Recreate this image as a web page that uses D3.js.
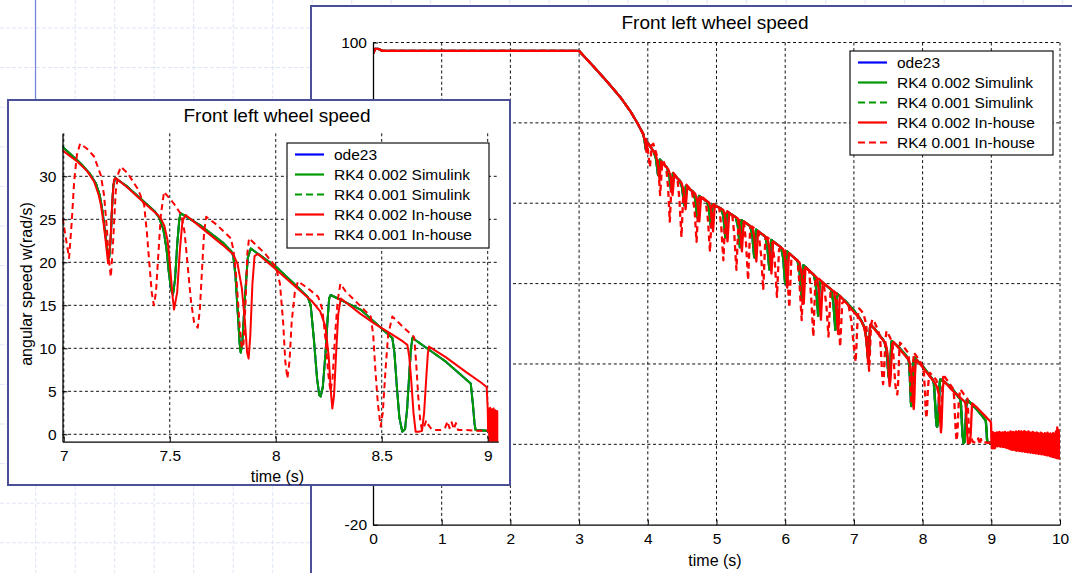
<!DOCTYPE html>
<html>
<head>
<meta charset="utf-8">
<script src="https://cdn.jsdelivr.net/npm/d3@7"></script>
<style>
  body { margin: 0; background: #fff; }
  svg { display: block; }
  text { font-family: "Liberation Sans", Arial, Helvetica, sans-serif; fill: #000; }
</style>
</head>
<body>
<svg id="chart" width="1072" height="573"></svg>
<script>
// ---------------------------------------------------------------
// Front left wheel speed, angular speed w (rad/s) against time (s)
// ---------------------------------------------------------------

// Coasting phase before braking (identical for every solver)
const coastPhase = [
  [0, 97.2], [0.03, 98.4], [0.08, 98.4], [0.14, 97.9], [3.0, 97.9],
  [3.2, 94.2], [3.4, 90.4], [3.6, 86.4], [3.75, 82.8], [3.85, 79.9], [3.9, 78.3]
];

// RK4 0.002 Simulink, braking phase
const simulink002Braking = [
  [3.93, 77.3], [3.95, 76.0], [3.97, 73.5], [3.99, 75.3],
  [4.09, 72.7], [4.12, 71.0], [4.15, 67.0], [4.175, 70.9],
  [4.28, 68.8], [4.31, 67.3], [4.34, 63.0], [4.365, 67.4],
  [4.47, 65.5], [4.50, 63.8], [4.53, 59.5], [4.555, 64.3],
  [4.66, 62.8], [4.69, 61.0], [4.72, 56.5], [4.745, 61.8],
  [4.86, 60.5], [4.89, 58.8], [4.92, 54.0], [4.945, 59.8],
  [5.07, 58.6], [5.10, 56.8], [5.13, 51.5], [5.155, 57.9],
  [5.28, 56.5], [5.31, 54.5], [5.34, 49.0], [5.365, 55.8],
  [5.49, 54.3], [5.52, 52.2], [5.55, 46.5], [5.575, 53.4],
  [5.71, 51.7], [5.74, 49.3], [5.77, 43.5], [5.795, 50.9],
  [5.94, 49.0], [5.97, 46.5], [6.00, 40.0], [6.025, 48.0],
  [6.18, 45.7], [6.21, 42.8], [6.24, 36.0], [6.265, 44.6],
  [6.42, 42.1], [6.45, 39.0], [6.48, 32.0], [6.505, 40.8],
  [6.67, 38.5], [6.70, 35.5], [6.73, 28.5], [6.755, 37.5],
  [6.88, 35.6],
  [7.0, 33.3], [7.08, 31.5], [7.12, 30.4], [7.151, 29.2], [7.17, 27.8], [7.183, 25.9],
  [7.195, 23.5], [7.205, 21.5], [7.214, 20.5], [7.222, 23.0], [7.228, 26.5], [7.234, 29.0], [7.243, 29.8],
  [7.3, 28.8], [7.38, 27.0], [7.43, 25.9], [7.45, 25.2], [7.47, 23.8], [7.485, 21.5], [7.495, 19.0],
  [7.505, 17.0], [7.515, 16.2], [7.525, 18.0], [7.535, 22.0], [7.545, 25.0], [7.552, 25.7],
  [7.65, 24.2], [7.75, 22.3], [7.79, 21.3], [7.80, 20.7], [7.81, 18.5], [7.82, 14.5], [7.83, 10.5],
  [7.835, 9.5], [7.842, 10.5], [7.855, 16.0], [7.868, 20.5], [7.882, 21.6],
  [8.0, 19.5], [8.1, 17.2], [8.15, 16.0], [8.165, 15.0], [8.18, 11.0], [8.195, 6.5], [8.205, 4.6],
  [8.212, 4.4], [8.222, 5.5], [8.235, 9.5], [8.245, 13.5], [8.252, 15.8], [8.259, 16.2],
  [8.4, 14.5], [8.527, 11.7], [8.55, 11.2], [8.56, 9.5], [8.57, 6.0], [8.583, 2.0], [8.597, 0.3],
  [8.61, 0.6], [8.62, 3.0], [8.63, 7.0], [8.638, 10.0], [8.645, 11.2],
  [8.8, 8.5], [8.92, 5.9], [8.93, 3.5], [8.938, 1.2], [8.943, 0.5], [9.0, 0.4], [9.02, 0.4]
];

// RK4 0.002 In-house, braking phase
const inhouse002Braking = [
  [3.93, 77.2], [3.96, 75.5], [3.98, 72.8], [4.0, 75.0],
  [4.11, 72.3], [4.14, 70.5], [4.17, 66.0], [4.195, 70.4],
  [4.30, 68.4], [4.33, 66.8], [4.36, 62.0], [4.385, 67.0],
  [4.49, 65.1], [4.52, 63.3], [4.55, 58.5], [4.575, 64.0],
  [4.69, 62.4], [4.72, 60.5], [4.75, 55.5], [4.775, 61.5],
  [4.89, 60.2], [4.92, 58.4], [4.95, 53.0], [4.975, 59.5],
  [5.10, 58.3], [5.13, 56.3], [5.16, 50.5], [5.185, 57.6],
  [5.31, 56.2], [5.34, 54.0], [5.37, 48.0], [5.395, 55.5],
  [5.52, 54.0], [5.55, 51.7], [5.58, 45.5], [5.605, 53.1],
  [5.74, 51.3], [5.77, 48.8], [5.80, 42.5], [5.825, 50.5],
  [5.97, 48.6], [6.00, 46.0], [6.03, 39.0], [6.055, 47.6],
  [6.21, 45.2], [6.24, 42.3], [6.27, 35.0], [6.295, 44.1],
  [6.46, 41.5], [6.49, 38.5], [6.52, 31.0], [6.545, 40.3],
  [6.71, 38.0], [6.74, 35.0], [6.77, 27.5], [6.795, 37.0],
  [6.9, 35.0],
  [7.0, 32.9], [7.065, 31.7], [7.11, 30.6], [7.143, 29.4], [7.165, 27.8], [7.175, 26.7], [7.188, 24.5],
  [7.198, 22.4], [7.209, 19.9], [7.22, 22.5], [7.23, 27.5], [7.237, 29.6], [7.245, 29.8],
  [7.3, 28.7], [7.38, 26.9], [7.44, 25.6], [7.458, 25.1], [7.475, 24.2], [7.49, 22.5], [7.497, 20.8],
  [7.505, 18.5], [7.512, 16.4], [7.52, 14.5], [7.535, 16.5], [7.548, 21.5], [7.56, 24.8], [7.575, 25.5],
  [7.65, 24.0], [7.75, 22.0], [7.80, 20.9], [7.82, 19.8], [7.84, 17.0], [7.855, 13.0], [7.865, 9.5],
  [7.872, 8.8], [7.88, 11.5], [7.89, 17.5], [7.9, 20.7], [7.914, 21.0],
  [8.0, 19.2], [8.1, 17.0], [8.17, 15.5], [8.21, 14.3], [8.235, 12.5], [8.25, 9.0], [8.26, 5.0],
  [8.267, 3.0], [8.275, 4.5], [8.285, 9.5], [8.295, 14.0], [8.307, 15.8],
  [8.4, 14.0], [8.464, 12.9], [8.55, 11.6], [8.6, 10.8], [8.621, 10.4], [8.63, 9.0], [8.64, 6.0],
  [8.65, 2.5], [8.66, 0.3], [8.675, 0.3], [8.69, 0.4], [8.7, 2.5], [8.71, 6.5], [8.718, 9.5], [8.723, 10.2],
  [8.8, 9.0], [8.9, 7.2], [8.97, 6.0], [8.995, 5.5], [9.0, 3.0], [9.002, 0.4]
];

// RK4 0.002 In-house, chatter once the wheel has stopped
const inhouse002Chatter = [
  [9.004, 3.0], [9.008, -1.0], [9.012, 3.1], [9.016, -1.0], [9.02, 2.9], [9.024, -0.9], [9.028, 3.0],
  [9.032, -1.0], [9.036, 2.8], [9.04, -0.9], [9.044, 2.7], [9.048, -1.0], [9.052, 2.6], [9.056, -0.9],
  [9.06, 2.8], [9.07, -0.4], [9.08, 3.0], [9.09, -0.5], [9.10, 2.9], [9.11, -0.4], [9.12, 3.1],
  [9.13, -0.6], [9.14, 2.8], [9.15, -0.5], [9.16, 3.0], [9.17, -0.7], [9.18, 2.9], [9.19, -0.6],
  [9.20, 3.1], [9.21, -0.8], [9.22, 2.8], [9.23, -0.9], [9.24, 3.0], [9.25, -1.0], [9.26, 2.9],
  [9.27, -1.2], [9.28, 3.2], [9.29, -1.3], [9.30, 3.0], [9.31, -1.4], [9.32, 3.1], [9.33, -1.3],
  [9.34, 2.9], [9.35, -1.5], [9.36, 3.2], [9.37, -1.6], [9.38, 3.0], [9.39, -1.5], [9.40, 3.3],
  [9.41, -1.7], [9.42, 3.1], [9.43, -1.6], [9.44, 3.2], [9.45, -1.8], [9.46, 3.0], [9.47, -1.7],
  [9.48, 3.3], [9.49, -1.9], [9.50, 3.1], [9.51, -1.8], [9.52, 2.9], [9.53, -2.0], [9.54, 3.2],
  [9.55, -1.9], [9.56, 3.0], [9.57, -2.1], [9.58, 2.8], [9.59, -2.0], [9.60, 3.1], [9.61, -2.2],
  [9.62, 2.9], [9.63, -2.1], [9.64, 2.7], [9.65, -2.3], [9.66, 3.0], [9.67, -2.2], [9.68, 2.8],
  [9.69, -2.4], [9.70, 2.6], [9.71, -2.3], [9.72, 2.9], [9.73, -2.5], [9.74, 2.7], [9.75, -2.4],
  [9.76, 2.5], [9.77, -2.6], [9.78, 2.8], [9.79, -2.6], [9.80, 2.6], [9.81, -2.8], [9.82, 2.9],
  [9.83, -2.7], [9.84, 2.5], [9.85, -2.9], [9.86, 2.7], [9.87, -3.0], [9.88, 2.4], [9.89, -3.1],
  [9.90, 2.8], [9.91, -3.2], [9.92, 2.6], [9.93, -3.3], [9.94, 3.2], [9.95, -3.4], [9.96, 4.2],
  [9.97, -3.5], [9.98, 3.5], [9.99, -3.5], [10.0, 3.0]
];

// RK4 0.001 In-house, braking phase
const inhouse001Braking = [
  [3.97, 76.3], [4.00, 73.5], [4.03, 69.0], [4.06, 74.5], [4.08, 74.8],
  [4.13, 72.0], [4.155, 68.5], [4.18, 62.0], [4.21, 70.2], [4.23, 70.4],
  [4.27, 68.6], [4.295, 64.0], [4.32, 55.4], [4.35, 66.8], [4.37, 67.6],
  [4.43, 66.3], [4.46, 61.0], [4.49, 51.6], [4.52, 63.8], [4.55, 64.8],
  [4.64, 63.2], [4.68, 58.5], [4.71, 50.4], [4.74, 61.0], [4.77, 62.0],
  [4.84, 60.8], [4.875, 56.0], [4.905, 47.9], [4.935, 59.2], [4.96, 59.8],
  [5.04, 58.8], [5.07, 54.0], [5.10, 45.8], [5.13, 57.3], [5.16, 58.0],
  [5.23, 57.0], [5.26, 52.0], [5.29, 43.4], [5.32, 55.4], [5.35, 56.0],
  [5.40, 55.3], [5.43, 50.0], [5.46, 40.9], [5.49, 53.8], [5.52, 54.2],
  [5.61, 52.9], [5.65, 47.0], [5.68, 38.4], [5.71, 51.0], [5.74, 51.5],
  [5.81, 50.5], [5.85, 45.0], [5.88, 36.7], [5.91, 48.5], [5.94, 49.0],
  [6.00, 48.2], [6.03, 42.5], [6.06, 34.0], [6.09, 46.2], [6.12, 46.6],
  [6.18, 45.7], [6.21, 39.5], [6.24, 30.9], [6.27, 43.5], [6.30, 44.0],
  [6.35, 43.2], [6.38, 36.0], [6.41, 26.8], [6.44, 41.0], [6.47, 41.5],
  [6.56, 40.1], [6.60, 34.5], [6.63, 26.8], [6.66, 38.0], [6.69, 38.4],
  [6.75, 37.5], [6.775, 31.5], [6.80, 24.3], [6.83, 35.2], [6.86, 35.6],
  [6.92, 34.8], [6.96, 31.0],
  [7.0, 24.3], [7.025, 20.5], [7.037, 24.5], [7.049, 29.4], [7.062, 32.5], [7.077, 33.8], [7.11, 33.2],
  [7.143, 32.3], [7.175, 30.1], [7.19, 27.8], [7.203, 24.0], [7.212, 20.5], [7.222, 18.3], [7.232, 22.0],
  [7.245, 28.2], [7.257, 30.3], [7.269, 31.1],
  [7.30, 30.4], [7.35, 28.5], [7.379, 26.7], [7.392, 23.5], [7.405, 19.5], [7.415, 16.5], [7.425, 15.0],
  [7.435, 16.5], [7.445, 20.5], [7.458, 25.5], [7.473, 28.2],
  [7.52, 26.8], [7.555, 25.5], [7.57, 23.5], [7.585, 19.5], [7.60, 15.5], [7.615, 13.0], [7.632, 12.4],
  [7.642, 14.5], [7.652, 19.0], [7.662, 23.5], [7.672, 25.3],
  [7.72, 24.4], [7.788, 22.8], [7.80, 21.5], [7.815, 18.0], [7.83, 12.5], [7.84, 10.0], [7.848, 10.5],
  [7.858, 15.5], [7.866, 21.0], [7.874, 22.8],
  [7.95, 21.0], [8.0, 19.5], [8.02, 17.5], [8.035, 13.0], [8.045, 8.5], [8.055, 6.5], [8.065, 8.5],
  [8.075, 13.0], [8.09, 16.5], [8.105, 17.8],
  [8.15, 17.0], [8.2, 16.0], [8.22, 14.5], [8.235, 11.0], [8.248, 7.0], [8.258, 5.0], [8.268, 6.5],
  [8.28, 11.5], [8.292, 15.5], [8.305, 17.5],
  [8.33, 16.6], [8.40, 14.9], [8.448, 13.7], [8.46, 11.5], [8.47, 7.5], [8.482, 3.5], [8.495, 0.9],
  [8.505, 2.5], [8.518, 7.5], [8.53, 11.5], [8.55, 13.7],
  [8.60, 12.5], [8.653, 11.3], [8.662, 8.5], [8.672, 4.5], [8.682, 1.5], [8.69, 0.5],
  [8.70, 0.9], [8.71, 1.6], [8.72, 1.1], [8.735, 0.6], [8.75, 0.5], [8.78, 0.5], [8.8, 0.8],
  [8.81, 1.5], [8.82, 0.7], [8.83, 1.4], [8.84, 0.6], [8.85, 1.3], [8.86, 0.5], [8.9, 0.5],
  [8.95, 0.4], [9.0, 0.4]
];

// Full traces
const simulink002 = coastPhase.concat(simulink002Braking);
const inhouse002 = coastPhase.concat(inhouse002Braking, inhouse002Chatter);
const inhouse001 = coastPhase.concat(inhouse001Braking);
// ode23 and the 0.001 Simulink run lie underneath the 0.002 Simulink trace
const ode23 = simulink002;
const simulink001 = simulink002;

const seriesNames = ["ode23", "RK4 0.002 Simulink", "RK4 0.001 Simulink", "RK4 0.002 In-house", "RK4 0.001 In-house"];
const seriesData = [ode23, simulink002, simulink001, inhouse002, inhouse001];
const seriesColors = ["#0000ff", "#009900", "#009900", "#ff0000", "#ff0000"];
const seriesDashes = [null, null, "6,4", null, "6,4"];

// Axis ticks
const overviewTimeTicks = [0, 1, 2, 3, 4, 5, 6, 7, 8, 9, 10];
const overviewSpeedTicks = [-20, 0, 20, 40, 60, 80, 100];
const overviewSpeedLabelled = [-20, 100];   // the others sit behind the close-up panel
const detailTimeTicks = [7, 7.5, 8, 8.5, 9];
const detailSpeedTicks = [0, 5, 10, 15, 20, 25, 30];

const titleText = "Front left wheel speed";
const xLabelText = "time (s)";
const yLabelText = "angular speed w(rad/s)";

// ---------------------------------------------------------------
const W = 1072, H = 573;
const svg = d3.select("#chart");
const FONT = '"Liberation Sans", Arial, Helvetica, sans-serif';

// Slide background with its faint guide grid
const bg = svg.append("g");
bg.append("rect").attr("width", W).attr("height", H).attr("fill", "#fff");
for (let gx = 35.7 - 39.5; gx < W; gx += 39.5) {
  bg.append("line").attr("x1", gx).attr("x2", gx).attr("y1", 0).attr("y2", H)
    .attr("stroke", "#dfe5f6").attr("stroke-width", 1).attr("stroke-dasharray", "4,2");
}
for (let gy = 28; gy < H; gy += 39.6) {
  bg.append("line").attr("x1", 0).attr("x2", W).attr("y1", gy).attr("y2", gy)
    .attr("stroke", "#dfe5f6").attr("stroke-width", 1).attr("stroke-dasharray", "4,2");
}
bg.append("line").attr("x1", 35.5).attr("x2", 35.5).attr("y1", 0).attr("y2", 100)
  .attr("stroke", "#7a88dc").attr("stroke-width", 1.3);

function drawPanel(p) {
  const g = svg.append("g");
  g.append("rect")
    .attr("x", p.frame[0]).attr("y", p.frame[1]).attr("width", p.frame[2]).attr("height", p.frame[3])
    .attr("fill", "#fff").attr("stroke", "#4a4f98").attr("stroke-width", 2);

  const [bx0, by0, bx1, by1] = p.box;
  const x = d3.scaleLinear().domain(p.xDomain).range([bx0, bx1]);
  const y = d3.scaleLinear().domain(p.yDomain).range([by1, by0]);

  // dotted grid
  const grid = g.append("g").attr("stroke", "#111").attr("stroke-width", 1).attr("stroke-dasharray", "3,2.6");
  grid.selectAll("line.vx").data(p.xTicks.filter(t => x(t) - bx0 > 0.5)).join("line")
    .attr("x1", d => x(d)).attr("x2", d => x(d)).attr("y1", by0).attr("y2", by1);
  grid.selectAll("line.hy").data(p.yTicks.filter(t => by1 - y(t) > 0.5)).join("line")
    .attr("x1", bx0).attr("x2", bx1).attr("y1", d => y(d)).attr("y2", d => y(d));

  // traces
  g.append("clipPath").attr("id", p.id + "-clip").append("rect")
    .attr("x", bx0).attr("y", by0).attr("width", bx1 - bx0).attr("height", by1 - by0);
  const line = d3.line().x(d => x(d[0])).y(d => y(d[1]));
  const traces = g.append("g").attr("clip-path", `url(#${p.id}-clip)`);
  seriesData.forEach((data, i) => {
    traces.append("path").datum(data).attr("d", line)
      .attr("fill", "none").attr("stroke", seriesColors[i]).attr("stroke-width", p.lineWidth)
      .attr("stroke-linejoin", "round")
      .attr("stroke-dasharray", seriesDashes[i]);
  });

  // axes
  const yFmt = d => (!p.yLabelled || p.yLabelled.includes(d)) ? String(d) : "";
  const ax = g.append("g").attr("transform", `translate(0,${by1})`)
    .call(d3.axisBottom(x).tickValues(p.xTicks).tickFormat(d => String(d)).tickSize(-5).tickSizeOuter(0).tickPadding(8));
  const ay = g.append("g").attr("transform", `translate(${bx0},0)`)
    .call(d3.axisLeft(y).tickValues(p.yTicks).tickFormat(yFmt).tickSize(-5).tickSizeOuter(0).tickPadding(6));
  [ax, ay].forEach(a => {
    a.attr("font-family", FONT).attr("font-size", 15.5);
    a.select(".domain").attr("stroke", "#000").attr("stroke-width", 1.3);
    a.selectAll(".tick line").attr("stroke", "#000").attr("stroke-width", 1);
    a.selectAll(".tick text").attr("fill", "#000");
  });
  ay.selectAll(".tick text").filter(function () { return this.textContent === ""; }).remove();

  // title and labels
  g.append("text").attr("x", p.title[0]).attr("y", p.title[1]).attr("text-anchor", "middle")
    .attr("dy", "0.35em").attr("font-size", 19).text(titleText);
  g.append("text").attr("x", p.xLabel[0]).attr("y", p.xLabel[1]).attr("text-anchor", "middle")
    .attr("dy", "0.35em").attr("font-size", 16).text(xLabelText);
  if (p.yLabel) {
    g.append("text").attr("transform", `translate(${p.yLabel[0]},${p.yLabel[1]}) rotate(-90)`)
      .attr("text-anchor", "middle").attr("dy", "0.35em").attr("font-size", 16).text(yLabelText);
  }

  // legend
  const [lx, ly, lw, lh] = p.legend;
  const lg = g.append("g");
  lg.append("rect").attr("x", lx).attr("y", ly).attr("width", lw).attr("height", lh)
    .attr("fill", "#fff").attr("stroke", "#111").attr("stroke-width", 1.2);
  seriesNames.forEach((name, i) => {
    const ry = ly + 11.5 + i * 20;
    lg.append("line").attr("x1", lx + 8).attr("x2", lx + 37).attr("y1", ry).attr("y2", ry)
      .attr("stroke", seriesColors[i]).attr("stroke-width", 2.2)
      .attr("stroke-dasharray", seriesDashes[i] ? "7,4" : null);
    lg.append("text").attr("x", lx + 47).attr("y", ry).attr("dy", "0.35em")
      .attr("font-size", 15.5).text(name);
  });
}

// Whole run, 0 to 10 s
drawPanel({
  id: "overview",
  frame: [311, 6, 820, 620],
  box: [373, 42.5, 1060, 524.7],
  xDomain: [0, 10], yDomain: [-20, 100],
  xTicks: overviewTimeTicks, yTicks: overviewSpeedTicks, yLabelled: overviewSpeedLabelled,
  title: [715, 22.5], xLabel: [715, 560], yLabel: null,
  legend: [850, 51, 203, 104],
  lineWidth: 2.3
});

// Close-up of the final braking cycles, 7 to 9 s
drawPanel({
  id: "detail",
  frame: [8, 100, 502, 385],
  box: [62.5, 133.3, 498.3, 441.7],
  xDomain: [6.994, 9.05], yDomain: [-0.86, 35],
  xTicks: detailTimeTicks, yTicks: detailSpeedTicks, yLabelled: null,
  title: [277, 115.5], xLabel: [277.5, 476], yLabel: [26.5, 284],
  legend: [287, 143, 202, 105],
  lineWidth: 2
});
</script>
</body>
</html>
